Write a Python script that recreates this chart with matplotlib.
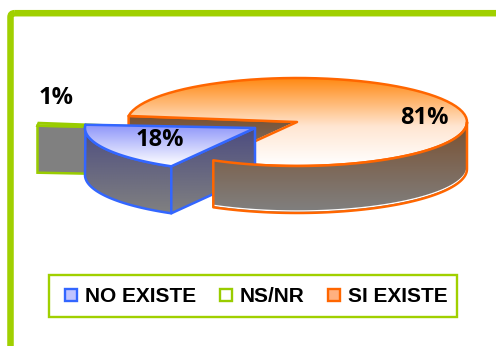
import numpy as np
import matplotlib
matplotlib.use('Agg')
import matplotlib.pyplot as plt
from matplotlib.colors import to_rgb
from matplotlib.patches import FancyBboxPatch, Polygon, Rectangle

# chart data
labels = ['NO EXISTE', 'NS/NR', 'SI EXISTE']
values = [18, 1, 81]
value_labels = ['18%', '1%', '81%']
line_colors = ['#3366FF', '#99CC00', '#FF6600']

GREEN = '#A0D000'
BROWN = '#7A5030'
GRAY = '#808080'

# pie geometry in pixels
rx, ry, depth = 170, 44, 47
start_angle = 240.5
centers = [(255, 128), (207, 129), (297, 122)]

fig = plt.figure(figsize=(4.96, 3.46), dpi=100)
ax = fig.add_axes([0, 0, 1, 1])
ax.set_axis_off()


def arc(c, a0, a1, dy=0):
    t = np.radians(np.linspace(a0, a1, 80))
    return np.column_stack([c[0] + rx * np.cos(t), c[1] - ry * np.sin(t) + dy])


def gradient(points, stops, z):
    # vertical gradient clipped to a polygon
    points = np.asarray(points)
    poly = Polygon(points, closed=True, transform=ax.transData, fc='none', ec='none')
    ax.add_patch(poly)
    pos = np.linspace(0, 1, 64)
    cols = np.array([to_rgb(c) for _, c in stops])
    where = [p for p, _ in stops]
    rgb = np.column_stack([np.interp(pos, where, cols[:, i]) for i in range(3)])
    y0, y1 = points[:, 1].min(), points[:, 1].max()
    im = ax.imshow(rgb[:, None, :], extent=[points[:, 0].min(), points[:, 0].max(), y1, y0],
                   aspect='auto', zorder=z, interpolation='bilinear')
    im.set_clip_path(poly)


def outline(points, color, z, lw=1.8, closed=True):
    ax.add_patch(Polygon(points, closed=closed, fc='none', ec=color, lw=lw, zorder=z,
                         joinstyle='round'))


# slice angles come from the values, going round from NO EXISTE's far edge
sweeps = [v / sum(values) * 360 for v in values]
si_start = start_angle
si_end = si_start + sweeps[2]          # wraps past 360
ns_start = si_end - 360
ns_end = ns_start + sweeps[1]
no_start = ns_end
no_end = no_start + sweeps[0]

# inner cut face of the big slice
c = centers[2]
rim = arc(c, si_end, si_end)[0]
face = [rim, c, (c[0], c[1] + depth), (rim[0], rim[1] + depth)]
gradient(face, [(0, BROWN), (1, GRAY)], 2)
outline(face, line_colors[2], 2.1)

# big slice top
top = np.vstack([arc(c, si_start, si_end), [c]])
gradient(top, [(0, '#FF8A14'), (0.55, '#FFE6D2'), (1, '#FFFFFF')], 3)
outline(top, line_colors[2], 3.1)
ax.plot([c[0] - 3, top[0, 0] - 3], [c[1] + 1, top[0, 1] + 1], color='white', lw=1, zorder=3.05)

# NS/NR sliver
c = centers[1]
rim0, rim1 = arc(c, ns_start, ns_start)[0], arc(c, ns_end, ns_end)[0]
face = [rim1, c, (c[0], c[1] + depth), (rim1[0], rim1[1] + depth)]
ax.add_patch(Polygon(face, fc=GRAY, ec=line_colors[1], lw=1.8, zorder=4))
ax.add_patch(Polygon([rim0, rim1, c], fc='#C8E070', ec=line_colors[1], lw=1.8, zorder=4.1))

# NO EXISTE slice
c = centers[0]
front = arc(c, max(no_start, 180), no_end)
wall = np.vstack([arc(c, no_start, no_end), front[::-1] + [0, depth]])
gradient(wall, [(0, '#4C4C80'), (1, GRAY)], 5)
outline(wall, line_colors[0], 5.1)
edge = front[-1]
side = [edge, c, (c[0], c[1] + depth), (edge[0], edge[1] + depth)]
gradient(side, [(0, '#4C4C80'), (1, GRAY)], 5.2)
outline(side, line_colors[0], 5.3)
top = np.vstack([arc(c, no_start, no_end), [c]])
gradient(top, [(0, '#8C94FA'), (1, '#FFFFFF')], 5.4)
outline(top, line_colors[0], 5.5)

# front wall of the big slice
c = centers[2]
front = arc(c, si_start, 360)
wall = np.vstack([front, front[::-1] + [0, depth]])
gradient(wall, [(0, BROWN), (1, GRAY)], 6)
ax.plot(front[:, 0], front[:, 1] + depth - 2, color='white', lw=1, zorder=6.1)
outline(wall, line_colors[2], 6.2)

# value labels
label_xy = [(160, 140), (56, 98), (424.5, 118)]
for (x, y), txt in zip(label_xy, value_labels):
    ax.text(x, y, txt, fontsize=17, fontweight='bold', family='Open Sans',
            ha='center', va='center', zorder=8)

# frame, runs off the right and bottom of the picture
ax.add_patch(FancyBboxPatch((10.5, 13.2), 540, 400, boxstyle='round,pad=0,rounding_size=4',
                            fc='none', ec=GREEN, lw=4.7, zorder=1))

# legend
ax.add_patch(Rectangle((49, 275), 408, 42, fc='white', ec=GREEN, lw=1.7, zorder=9))
legend_x = [64.5, 219.5, 327.5]
legend_fill = ['#C0C4FF', '#FFFFFF', '#FFB080']
for x, name, col, fill in zip(legend_x, labels, line_colors, legend_fill):
    ax.add_patch(Rectangle((x, 288.5), 12.5, 12.5, fc=fill, ec=col, lw=1.7, zorder=10))
    ax.text(x + 20.5, 296, name, fontsize=15, fontweight='bold', family='Liberation Sans',
            ha='left', va='center', zorder=10)

ax.set_xlim(0, 496)
ax.set_ylim(346, 0)
fig.savefig('out.png', dpi=100)
